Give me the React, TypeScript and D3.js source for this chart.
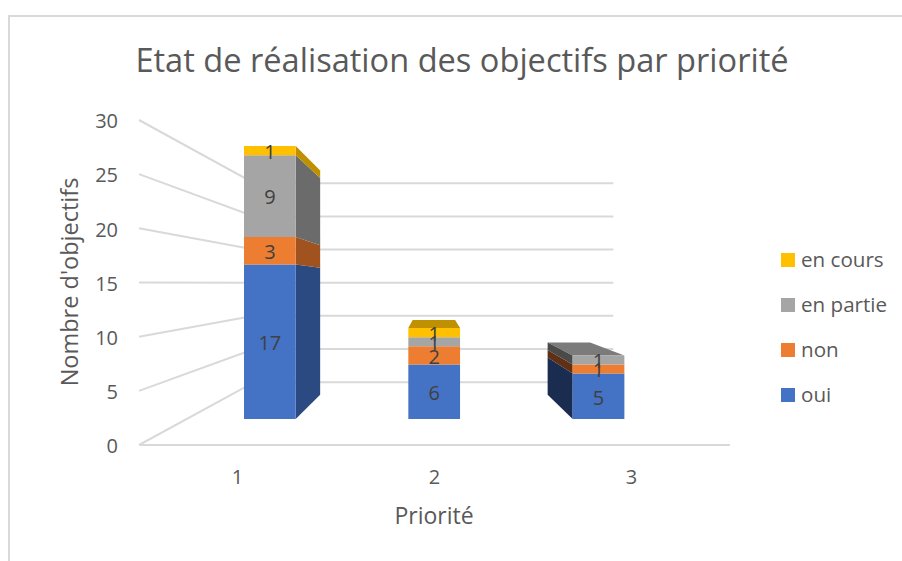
import React from "react";
import * as d3 from "d3";

const categories = ["1", "2", "3"];
const seriesNames = ["oui", "non", "en partie", "en cours"];
const oui = [17, 6, 5];
const non = [3, 2, 1];
const enPartie = [9, 1, 1];
const enCours = [1, 1, 0];
const yTicks = [0, 5, 10, 15, 20, 25, 30];
const frontColors = ["#4472c4", "#ed7d31", "#a5a5a5", "#ffc000"];
const rightColors = ["#2b4a82", "#a0521f", "#6b6b6b", "#bf9000"];
const leftColors = ["#1a2c50", "#5f3013", "#4a4a4a", "#7a5c00"];
const topColors = ["#2b4a82", "#a0521f", "#7b7b7b", "#bf9000"];

const FONT = "'Open Sans', 'Noto Sans', sans-serif";
const INK = "#595959";
const GRID = "#d9d9d9";
const W = 902;
const H = 561;

// Simple perspective projection of the chart's box
const VX = 432.6;
const VY = 283;
const X_RATIO = 0.993;
const S_FRONT = 1;
const S_BACK = 0.612;
const S_BAR_FRONT = 0.84;
const S_BAR_REAR = 0.69;

const x = d3.scaleBand<string>().domain(categories).range([139, 730]);
const y = d3.scaleLinear().domain([0, 30]).range([445, 120]);
const BAR = 62;

const project = (px: number, value: number, s: number): [number, number] => [
  VX + (s === S_FRONT ? 1 : s * X_RATIO) * (px - VX),
  VY + s * (y(value) - VY),
];
const poly = (pts: [number, number][]) => d3.line()(pts) + "Z";

const series = [oui, non, enPartie, enCours];

export default function App() {
  const left = x.range()[0];
  const right = x.range()[1];

  const bars = categories.map((c, i) => {
    const cx = (x(c) as number) + x.bandwidth() / 2;
    const x0 = cx - BAR / 2;
    const x1 = cx + BAR / 2;
    let acc = 0;
    const segs = series.map((vals, k) => ({ k, v: vals[i], lo: acc, hi: (acc += vals[i]) })).filter((s) => s.v > 0);
    const last = segs[segs.length - 1];
    const f = S_BAR_FRONT;
    const r = S_BAR_REAR;
    const showLeft = project(x0, 0, r)[0] < project(x0, 0, f)[0];
    const showRight = project(x1, 0, r)[0] > project(x1, 0, f)[0];
    const showTop = project(x0, last.hi, r)[1] < project(x0, last.hi, f)[1];
    return (
      <g key={c}>
        {showTop && (
          <path
            d={poly([project(x0, last.hi, f), project(x1, last.hi, f), project(x1, last.hi, r), project(x0, last.hi, r)])}
            fill={topColors[last.k]}
          />
        )}
        {segs.map((s) =>
          showLeft ? (
            <path
              key={"l" + s.k}
              d={poly([project(x0, s.lo, f), project(x0, s.hi, f), project(x0, s.hi, r), project(x0, s.lo, r)])}
              fill={leftColors[s.k]}
            />
          ) : null
        )}
        {segs.map((s) =>
          showRight ? (
            <path
              key={"r" + s.k}
              d={poly([project(x1, s.lo, f), project(x1, s.hi, f), project(x1, s.hi, r), project(x1, s.lo, r)])}
              fill={rightColors[s.k]}
            />
          ) : null
        )}
        {segs.map((s) => (
          <path
            key={"f" + s.k}
            d={poly([project(x0, s.lo, f), project(x1, s.lo, f), project(x1, s.hi, f), project(x0, s.hi, f)])}
            fill={frontColors[s.k]}
          />
        ))}
        {segs.map((s) => {
          const p = project(cx, (s.lo + s.hi) / 2, f);
          return (
            <text key={"t" + s.k} x={p[0]} y={p[1] + 1} dy="0.36em" textAnchor="middle" fontSize={20} fill="#404040" fontFamily={FONT}>
              {s.v}
            </text>
          );
        })}
      </g>
    );
  });

  return (
    <svg width={W} height={H} style={{ position: "absolute", left: 0, top: 0, background: "#fff" }}>
      <path d={`M9,${H}V16H${W}`} fill="none" stroke={GRID} strokeWidth={2} />
      <text x={462} y={72} textAnchor="middle" fontSize={32.6} fill={INK} fontFamily={FONT}>
        Etat de réalisation des objectifs par priorité
      </text>

      {yTicks.map((t) => {
        const a = project(left, t, S_FRONT);
        const b = project(left, t, S_BACK);
        const c = project(right, t, S_BACK);
        return (
          <g key={t}>
            <path d={d3.line()([a, b, c]) as string} fill="none" stroke={GRID} strokeWidth={2} />
            <text x={118} y={a[1] + 1} dy="0.36em" textAnchor="end" fontSize={20} fill={INK} fontFamily={FONT}>
              {t}
            </text>
          </g>
        );
      })}
      <line x1={left} x2={right} y1={y(0)} y2={y(0)} stroke={GRID} strokeWidth={2} />

      {bars}

      {categories.map((c) => (
        <text key={c} x={(x(c) as number) + x.bandwidth() / 2} y={477} dy="0.36em" textAnchor="middle" fontSize={20} fill={INK} fontFamily={FONT}>
          {c}
        </text>
      ))}
      <text x={434} y={516} dy="0.36em" textAnchor="middle" fontSize={23} fill={INK} fontFamily={FONT}>
        Priorité
      </text>
      <text transform="translate(70,282) rotate(-90)" dy="0.36em" textAnchor="middle" fontSize={23.5} fill={INK} fontFamily={FONT}>
        Nombre d'objectifs
      </text>

      {seriesNames.map((n, k) => {
        const ly = d3.scaleLinear().domain([0, 3]).range([395, 260])(k);
        return (
          <g key={n}>
            <rect x={781} y={ly - 7} width={14} height={14} fill={frontColors[k]} />
            <text x={801} y={ly} dy="0.36em" fontSize={20.6} fill={INK} fontFamily={FONT}>
              {n}
            </text>
          </g>
        );
      })}
    </svg>
  );
}
